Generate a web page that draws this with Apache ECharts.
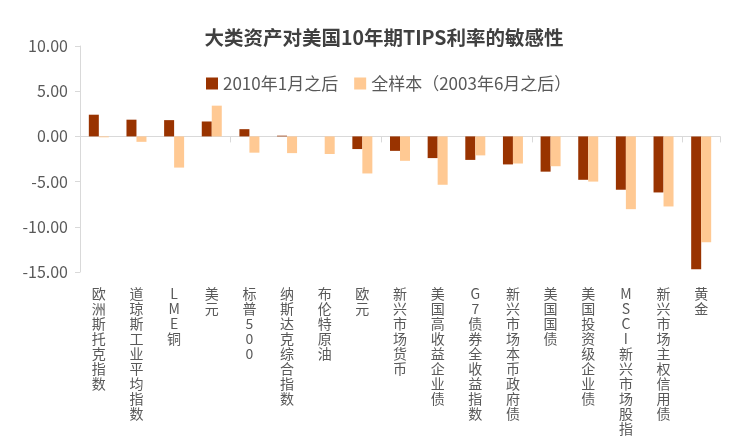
<!DOCTYPE html>
<html>
<head>
  <meta charset="UTF-8">
  <title>TIPS sensitivity</title>
  <script src="https://cdn.jsdelivr.net/npm/echarts@6/dist/echarts.min.js"></script>
  <style>
    html, body { margin: 0; padding: 0; background: #fff; }
  </style>
</head>
<body>
  <div id="chart" style="width:732px; height:448px;"></div>
  <script>
    var categories = ['欧洲斯托克指数', '道琼斯工业平均指数', 'LME 铜', '美元', '标普500', '纳斯达克综合指数',
      '布伦特原油', '欧元', '新兴市场货币', '美国高收益企业债', 'G7债券全收益指数', '新兴市场本币政府债',
      '美国国债', '美国投资级企业债', 'MSCI 新兴市场股指', '新兴市场主权信用债', '黄金'];
    var since2010 = [2.4, 1.85, 1.8, 1.65, 0.8, 0.08, 0.0, -1.4, -1.6, -2.4, -2.6, -3.1, -3.9, -4.8, -5.9, -6.2, -14.7];
    var fullSample = [-0.1, -0.6, -3.45, 3.4, -1.8, -1.85, -1.95, -4.1, -2.7, -5.35, -2.1, -3.0, -3.3, -5.0, -8.05, -7.75, -11.7];
    var seriesNames = ['2010年1月之后', '全样本（2003年6月之后）'];

    var font = '"Noto Sans CJK SC", "Noto Sans", sans-serif';
    var chart = echarts.init(document.getElementById('chart'), null, {renderer: 'canvas'});

    chart.setOption({
      backgroundColor: '#fff',
      animation: false,
      title: {
        text: '大类资产对美国10年期TIPS利率的敏感性',
        left: 379,
        textAlign: 'center',
        top: 23,
        textStyle: {fontFamily: font, fontSize: 19.5, fontWeight: 'bold', color: '#404040'}
      },
      legend: {
        data: seriesNames,
        left: 201,
        top: 70,
        itemWidth: 12,
        itemHeight: 12,
        itemGap: 16,
        icon: 'rect',
        textStyle: {fontFamily: font, fontSize: 17, color: '#595959'}
      },
      grid: {left: 80, right: 12, top: 46, bottom: 176},
      xAxis: [
        {
          type: 'category',
          data: categories,
          axisLine: {onZero: true, lineStyle: {color: '#d9d9d9'}},
          axisTick: {show: true, length: 6, lineStyle: {color: '#d9d9d9'}},
          axisLabel: {show: false}
        },
        {
          type: 'category',
          data: categories,
          position: 'bottom',
          axisLine: {show: false, onZero: false},
          axisTick: {show: false},
          axisLabel: {
            margin: 14,
            fontFamily: font,
            fontSize: 14,
            lineHeight: 15,
            color: '#595959',
            verticalAlign: 'top',
            formatter: function (v) {
              return v.replace(/\s/g, '').split('').join('\n');
            }
          }
        }
      ],
      yAxis: {
        type: 'value',
        min: -15,
        max: 10,
        interval: 5,
        splitLine: {show: false},
        axisLine: {show: true, lineStyle: {color: '#d9d9d9'}},
        axisTick: {show: true, length: 5, lineStyle: {color: '#d9d9d9'}},
        axisLabel: {
          margin: 12,
          fontFamily: font,
          fontSize: 16,
          color: '#595959',
          formatter: function (v) { return v.toFixed(2); }
        }
      },
      series: [
        {
          name: seriesNames[0],
          type: 'bar',
          xAxisIndex: 0,
          data: since2010,
          barWidth: 10,
          barGap: '0%',
          itemStyle: {color: '#993300'}
        },
        {
          name: seriesNames[1],
          type: 'bar',
          xAxisIndex: 0,
          data: fullSample,
          barWidth: 10,
          barGap: '0%',
          itemStyle: {color: '#FFC993'}
        }
      ]
    });
  </script>
</body>
</html>
